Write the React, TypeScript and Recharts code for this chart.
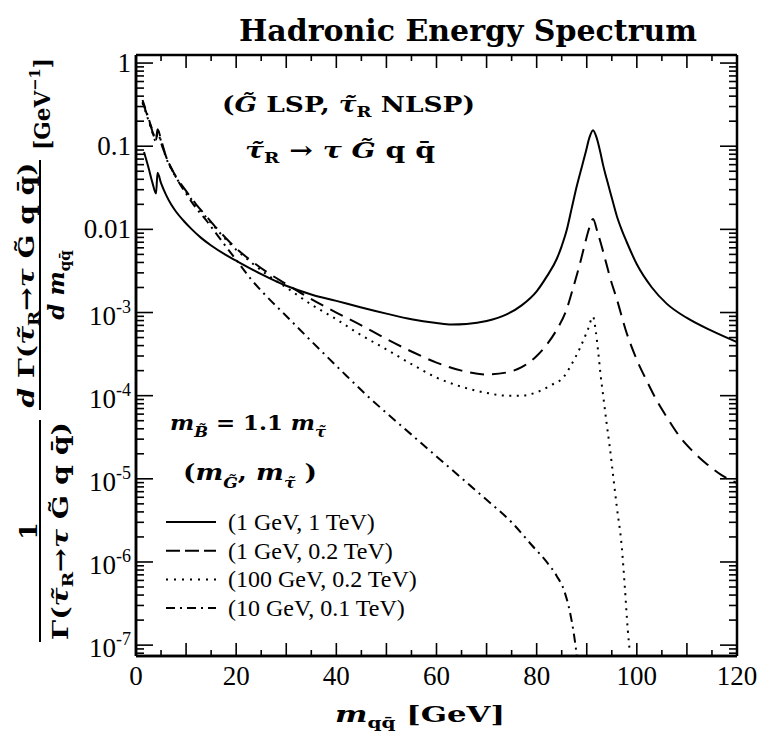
import React from "react";
import { Legend, Line, LineChart, XAxis, YAxis } from "recharts";

const SERIF = "'Liberation Serif', 'Times New Roman', serif";
const BOLD = "'DejaVu Serif', serif";

// [m_qq (GeV), 1/Γ dΓ/dm (GeV^-1)]
const solid1GeV1TeV: [number, number][] = [
  [1.6, 0.085], [2.5, 0.055], [3.3, 0.036], [4.0, 0.027], [4.3, 0.048], [5.0, 0.036],
  [6.0, 0.026], [7.0, 0.02], [8.0, 0.0163], [9.5, 0.0127], [11, 0.0102], [13, 0.0079],
  [15, 0.0064], [18, 0.0049], [20, 0.0042], [25, 0.0029], [30, 0.0021], [35, 0.00165],
  [40, 0.00138], [45, 0.00115], [50, 0.00097], [55, 0.00083], [60, 0.00075], [63, 0.00072],
  [66, 0.00073], [70, 0.00079], [74, 0.00095], [77, 0.00122], [80, 0.0018], [82, 0.0027],
  [84, 0.0044], [85, 0.0063], [86, 0.0098], [87, 0.018], [88, 0.033], [89, 0.056],
  [89.8, 0.085], [90.5, 0.125], [91.25, 0.156], [92, 0.125], [92.7, 0.085], [93.3, 0.058],
  [94, 0.04], [95, 0.024], [96, 0.0145], [97, 0.0098], [98, 0.007], [100, 0.0038],
  [103, 0.002], [106, 0.00127], [110, 0.00086], [115, 0.0006], [120, 0.00044],
];

const dashed1GeV02TeV: [number, number][] = [
  [1.3, 0.34], [2.0, 0.26], [3.0, 0.17], [4.0, 0.12], [4.3, 0.16], [5.0, 0.12],
  [6.0, 0.075], [7.0, 0.055], [8.0, 0.043], [10, 0.029], [12, 0.02], [14, 0.0145],
  [16, 0.0105], [18, 0.0078], [20, 0.0059], [23, 0.0042], [26, 0.0031], [30, 0.0022],
  [35, 0.00145], [40, 0.001], [45, 0.0007], [50, 0.00048], [55, 0.00034], [60, 0.00025],
  [65, 0.0002], [70, 0.00018], [74, 0.00019], [77, 0.00022], [80, 0.0003], [82, 0.00041],
  [84, 0.00062], [86, 0.0011], [87.3, 0.002], [88.5, 0.0036], [89.5, 0.0062], [90.3, 0.0095],
  [91.25, 0.0133], [92.1, 0.0095], [93, 0.0062], [94, 0.0037], [94.6, 0.0027], [96, 0.00145],
  [98, 0.00056], [100, 0.00027], [102, 0.00015], [104, 0.000087], [106, 0.000055],
  [108.6, 0.000032], [111, 0.000022], [114, 0.000015], [117, 0.000011], [120, 0.0000089],
];

const dotted100GeV02TeV: [number, number][] = [
  [1.3, 0.33], [2.0, 0.25], [3.0, 0.165], [4.0, 0.115], [4.3, 0.155], [5.0, 0.115],
  [6.0, 0.073], [7.0, 0.054], [8.0, 0.042], [10, 0.028], [12, 0.0195], [14, 0.014],
  [16, 0.0102], [18, 0.0075], [20, 0.0057], [23, 0.004], [26, 0.0029], [30, 0.002],
  [35, 0.00125], [40, 0.00083], [44, 0.00058], [50, 0.00036], [55, 0.00024], [60, 0.000165],
  [65, 0.000128], [70, 0.000108], [74, 0.0001], [77, 0.0001], [80, 0.00011], [83, 0.000135],
  [85.3, 0.000165], [87, 0.00024], [88.7, 0.00038], [90.2, 0.00062], [91.25, 0.00089],
  [91.8, 0.0006], [92.3, 0.00033], [92.8, 0.00017], [93.3, 0.000098], [94, 0.000045],
  [94.6, 0.000024], [95.3, 0.0000105], [96, 0.0000046], [97, 0.0000015], [97.6, 0.0000005],
  [98.2, 0.00000015], [98.6, 0.000000083],
];

const dashDot10GeV01TeV: [number, number][] = [
  [1.3, 0.36], [2.0, 0.27], [3.0, 0.175], [4.0, 0.12], [4.3, 0.15], [5.0, 0.11],
  [6.0, 0.075], [7.0, 0.055], [8.0, 0.042], [10, 0.027], [12, 0.018], [14, 0.0129],
  [17, 0.0074], [20, 0.0043], [23, 0.0025], [26, 0.00158], [30, 0.00091], [34, 0.00052],
  [38, 0.0003], [42, 0.000174], [46, 0.000102], [50, 0.000062], [55, 0.000034],
  [60, 0.0000186], [65, 0.0000102], [70, 0.0000056], [75, 0.000003], [79, 0.0000016],
  [82, 0.000001], [84, 0.00000068], [85.5, 0.00000045], [86.7, 0.00000024],
  [87.4, 0.00000014], [88, 0.000000076],
];

const legendLabels = ["(1 GeV, 1 TeV)", "(1 GeV, 0.2 TeV)", "(100 GeV, 0.2 TeV)", "(10 GeV, 0.1 TeV)"];
const xTicks = [0, 5, 10, 15, 20, 25, 30, 35, 40, 45, 50, 55, 60, 65, 70, 75, 80, 85, 90, 95, 100, 105, 110, 115, 120];
const xTickLabels = [0, 20, 40, 60, 80, 100, 120];
const yDecades = [1e-7, 1e-6, 1e-5, 1e-4, 1e-3, 0.01, 0.1, 1];
const yDecadeLabels = ["-7", "-6", "-5", "-4", "-3", "0.01", "0.1", "1"];

const yMinor = [8e-8, 9e-8, ...yDecades.slice(0, -1).flatMap((d) => [2, 3, 4, 5, 6, 7, 8, 9].map((k) => k * d))];
const yTicks = [...yMinor, ...yDecades];

const X_DOMAIN: [number, number] = [0, 120];
const Y_DOMAIN: [number, number] = [7.4e-8, 1.25];
const PLOT = { left: 136, top: 55, right: 737, bottom: 656 };

const series = [
  { name: legendLabels[0], points: solid1GeV1TeV, dash: undefined as string | undefined },
  { name: legendLabels[1], points: dashed1GeV02TeV, dash: "14 8" },
  { name: legendLabels[2], points: dotted100GeV02TeV, dash: "2 5.5" },
  { name: legendLabels[3], points: dashDot10GeV01TeV, dash: "9 5 2 5" },
];

const legendDash = [undefined, "14 5", "2 6", "9 5 2 5"];

function decadeIndex(v: number) {
  return yDecades.findIndex((d) => Math.abs(d - v) / d < 1e-6);
}

function LeftLabel(props: any) {
  const x = Number(props.x) - 5;
  const y = Number(props.y);
  const i = decadeIndex(props.payload.value);
  if (i < 0) return <g />;
  if (i >= 5)
    return (
      <text x={x} y={y + 9} textAnchor="end" fontFamily={SERIF} fontSize={27} fill="#000">
        {yDecadeLabels[i]}
      </text>
    );
  return (
    <text x={x} y={y + 12} textAnchor="end" fontFamily={SERIF} fontSize={27} fill="#000">
      10<tspan dy={-12} fontSize={18}>{yDecadeLabels[i]}</tspan>
    </text>
  );
}

function BottomLabel(props: any) {
  const v = props.payload.value;
  if (!xTickLabels.includes(v)) return <g />;
  return (
    <text x={Number(props.x)} y={Number(props.y) + 29} textAnchor="middle" fontFamily={SERIF} fontSize={27} fill="#000">
      {v}
    </text>
  );
}

// closed frame with inward ticks, drawn with the same domain mapping as the chart
function FrameTicks() {
  const w = PLOT.right - PLOT.left;
  const h = PLOT.bottom - PLOT.top;
  const lo = Math.log10(Y_DOMAIN[0]);
  const hi = Math.log10(Y_DOMAIN[1]);
  const px = (m: number) => PLOT.left + ((m - X_DOMAIN[0]) / (X_DOMAIN[1] - X_DOMAIN[0])) * w;
  const py = (v: number) => PLOT.top + ((hi - Math.log10(v)) / (hi - lo)) * h;
  const marks: React.ReactElement[] = [];
  yTicks.forEach((v, k) => {
    const len = decadeIndex(v) >= 0 ? 17 : 8;
    const y = py(v);
    marks.push(<line key={`yl${k}`} x1={PLOT.left} y1={y} x2={PLOT.left + len} y2={y} stroke="#000" strokeWidth={1.6} />);
    marks.push(<line key={`yr${k}`} x1={PLOT.right} y1={y} x2={PLOT.right - len} y2={y} stroke="#000" strokeWidth={1.6} />);
  });
  xTicks.forEach((m, k) => {
    const len = m % 10 === 0 ? 13 : 6;
    const x = px(m);
    marks.push(<line key={`xb${k}`} x1={x} y1={PLOT.bottom} x2={x} y2={PLOT.bottom - len} stroke="#000" strokeWidth={1.6} />);
    marks.push(<line key={`xt${k}`} x1={x} y1={PLOT.top} x2={x} y2={PLOT.top + len} stroke="#000" strokeWidth={1.6} />);
  });
  return (
    <g>
      {marks}
      <line x1={PLOT.left} y1={PLOT.top} x2={PLOT.right} y2={PLOT.top} stroke="#000" strokeWidth={2.5} />
      <line x1={PLOT.right} y1={PLOT.top} x2={PLOT.right} y2={PLOT.bottom} stroke="#000" strokeWidth={2.5} />
      <line x1={PLOT.left} y1={PLOT.bottom} x2={PLOT.right} y2={PLOT.bottom} stroke="#000" strokeWidth={2.5} />
      <line x1={PLOT.left} y1={PLOT.top} x2={PLOT.left} y2={PLOT.bottom} stroke="#000" strokeWidth={2.5} />
    </g>
  );
}

function SpectrumLegend() {
  return (
    <svg width={280} height={120} style={{ display: "block" }}>
      {legendLabels.map((label, i) => (
        <g key={label} transform={`translate(0, ${i * 28.7})`}>
          <line x1={0} x2={50} y1={12} y2={12} stroke="#000" strokeWidth={2} strokeDasharray={legendDash[i]} />
          <text x={62} y={20} fontSize={24} fontFamily={SERIF} fill="#000">
            {label}
          </text>
        </g>
      ))}
    </svg>
  );
}

function Annotations() {
  const sub = { fontSize: 15 };
  const fit = "spacingAndGlyphs";
  return (
    <svg width={761} height={734} style={{ position: "absolute", left: 0, top: 0, pointerEvents: "none", zIndex: 2 }}>
      <FrameTicks />
      <text x={468} y={41} textAnchor="middle" fontFamily={BOLD} fontWeight="bold" fontSize={30} fill="#000">
        Hadronic Energy Spectrum
      </text>

      <g fontFamily={BOLD} fontWeight="bold" fill="#000">
        <text x={222} y={112} fontSize={22} textLength={253} lengthAdjust={fit}>
          (<tspan fontStyle="italic">G̃</tspan> LSP,{"  "}<tspan fontStyle="italic">τ̃</tspan>
          <tspan {...sub} dy={5}>R</tspan>
          <tspan dy={-5}> NLSP)</tspan>
        </text>
        <text x={245} y={158} fontSize={23} textLength={190} lengthAdjust={fit}>
          <tspan fontStyle="italic">τ̃</tspan>
          <tspan {...sub} dy={5}>R</tspan>
          <tspan dy={-5}> → </tspan>
          <tspan fontStyle="italic">τ G̃</tspan> q q̄
        </text>
        <text x={170} y={430} fontSize={21} textLength={156} lengthAdjust={fit}>
          <tspan fontStyle="italic">m</tspan>
          <tspan {...sub} fontStyle="italic" dy={7}>B̃</tspan>
          <tspan dy={-7}> = 1.1 </tspan>
          <tspan fontStyle="italic">m</tspan>
          <tspan {...sub} fontStyle="italic" dy={7}>τ̃</tspan>
        </text>
        <text x={183} y={480} fontSize={23} textLength={134} lengthAdjust={fit}>
          (<tspan fontStyle="italic">m</tspan>
          <tspan {...sub} fontStyle="italic" dy={8}>G̃</tspan>
          <tspan dy={-8}>, </tspan>
          <tspan fontStyle="italic">m</tspan>
          <tspan {...sub} fontStyle="italic" dy={8}>τ̃</tspan>
          <tspan dy={-8}> )</tspan>
        </text>

        <text x={335} y={722} fontSize={23} textLength={170} lengthAdjust={fit}>
          <tspan fontStyle="italic">m</tspan>
          <tspan {...sub} dy={6}>qq̄</tspan>
          <tspan dy={-6}> [GeV]</tspan>
        </text>

        {/* y axis label, rotated */}
        <text transform="translate(37,531) rotate(-90)" textAnchor="middle" fontSize={25}>1</text>
        <line x1={40} y1={420} x2={40} y2={642} stroke="#000" strokeWidth={2} />
        <text transform="translate(68,531) rotate(-90)" textAnchor="middle" fontSize={23} textLength={218} lengthAdjust={fit}>
          Γ(<tspan fontStyle="italic">τ̃</tspan>
          <tspan {...sub} dy={5}>R</tspan>
          <tspan dy={-5}>→</tspan>
          <tspan fontStyle="italic">τ</tspan> G̃ q q̄)
        </text>
        <text transform="translate(34,285) rotate(-90)" textAnchor="middle" fontSize={23} textLength={245} lengthAdjust={fit}>
          <tspan fontStyle="italic">d</tspan> Γ(<tspan fontStyle="italic">τ̃</tspan>
          <tspan {...sub} dy={5}>R</tspan>
          <tspan dy={-5}>→</tspan>
          <tspan fontStyle="italic">τ</tspan> G̃ q q̄)
        </text>
        <line x1={40} y1={160} x2={40} y2={410} stroke="#000" strokeWidth={2} />
        <text transform="translate(64,285) rotate(-90)" textAnchor="middle" fontSize={23}>
          <tspan fontStyle="italic">d m</tspan>
          <tspan {...sub} dy={6}>qq̄</tspan>
        </text>
        <text transform="translate(50,104) rotate(-90)" textAnchor="middle" fontSize={22} textLength={92} lengthAdjust={fit}>
          [GeV<tspan fontSize={15} dy={-10}>−1</tspan>
          <tspan dy={10}>]</tspan>
        </text>
      </g>
    </svg>
  );
}

export default function App() {
  return (
    <div style={{ position: "absolute", left: 0, top: 0, width: 761, height: 734, background: "#fff" }}>
      <LineChart width={761} height={734} margin={{ top: 55, right: 24, bottom: 77, left: 135 }}>
        <XAxis
          xAxisId="bottom"
          dataKey="x"
          type="number"
          domain={X_DOMAIN}
          ticks={xTicks}
          interval={0}
          height={1}
          tickSize={0}
          tickMargin={0}
          tickLine={false}
          tick={BottomLabel}
          axisLine={{ stroke: "#000", strokeWidth: 2.5 }}
          allowDataOverflow
        />
        <YAxis
          yAxisId="left"
          scale="log"
          domain={Y_DOMAIN}
          ticks={yTicks}
          interval={0}
          width={1}
          tickSize={0}
          tickMargin={0}
          tickLine={false}
          tick={LeftLabel}
          axisLine={{ stroke: "#000", strokeWidth: 2.5 }}
          allowDataOverflow
        />
        <Legend
          layout="vertical"
          align="center"
          verticalAlign="middle"
          content={() => <SpectrumLegend />}
          wrapperStyle={{ left: 166, top: 510, width: 280, height: 120 }}
        />
        {series.map((s) => (
          <Line
            key={s.name}
            name={s.name}
            xAxisId="bottom"
            yAxisId="left"
            data={s.points.map(([x, y]) => ({ x, y }))}
            dataKey="y"
            type="monotone"
            stroke="#000"
            strokeWidth={2}
            strokeDasharray={s.dash}
            dot={false}
            activeDot={false}
            isAnimationActive={false}
          />
        ))}
      </LineChart>
      <Annotations />
    </div>
  );
}
